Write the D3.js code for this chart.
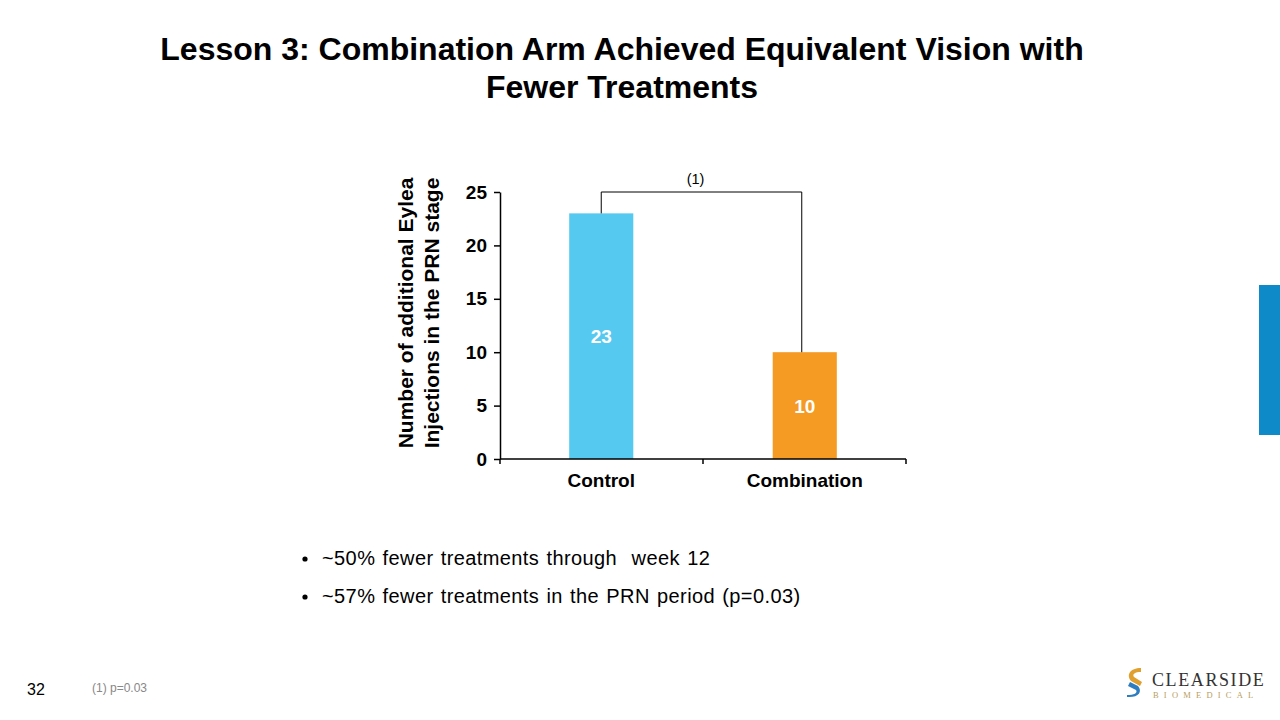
<!DOCTYPE html>
<html><head><meta charset="utf-8">
<script src="https://cdn.jsdelivr.net/npm/d3@7"></script>
<style>body{margin:0;background:#fff}svg{display:block;font-family:"Liberation Sans",Arial,sans-serif}</style>
</head><body><svg id="c" width="1280" height="720"></svg>
<script>
const categories = ["Control", "Combination"];
const values = [23, 10];
const barLabels = ["23", "10"];
const yTicks = [0, 5, 10, 15, 20, 25];
const colors = ["#56C9F1", "#F59A23"];
const titleLines = ["Lesson 3: Combination Arm Achieved Equivalent Vision with", "Fewer Treatments"];
const yLabelLines = ["Number of additional Eylea", "Injections in the PRN stage"];
const bullets = ["~50% fewer treatments through  week 12", "~57% fewer treatments in the PRN period (p=0.03)"];

const svg = d3.select("#c");
// title
svg.append("g").selectAll("text").data(titleLines).join("text")
  .attr("x", 622).attr("y", (d,i)=>59.5+i*38.5).attr("text-anchor","middle")
  .attr("font-size",32).attr("font-weight","bold").attr("fill","#000").text(d=>d);

const pLeft=500, pRight=906, pTop=192, pBottom=459;
const x = d3.scaleBand().domain(categories).range([pLeft,pRight]).paddingInner(0.685).paddingOuter(0.34);
const y = d3.scaleLinear().domain([0,25]).range([pBottom,pTop]);

const g = svg.append("g");
g.selectAll("rect").data(values).join("rect")
  .attr("x",(d,i)=>x(categories[i])).attr("width",x.bandwidth())
  .attr("y",d=>y(d)).attr("height",d=>y(0)-y(d)).attr("fill",(d,i)=>colors[i]);

g.selectAll("text.bl").data(values).join("text").attr("class","bl")
  .attr("x",(d,i)=>x(categories[i])+x.bandwidth()/2)
  .attr("y",d=>y(d/2)+7).attr("text-anchor","middle")
  .attr("font-size",19).attr("font-weight","bold").attr("fill","#fff")
  .text((d,i)=>barLabels[i]);

// y axis
const ya = svg.append("g").attr("transform",`translate(${pLeft},0)`)
  .call(d3.axisLeft(y).tickValues(yTicks).tickSize(6).tickSizeOuter(0));
ya.select(".domain").attr("stroke","#000").attr("stroke-width",1.5);
ya.selectAll(".tick line").attr("stroke","#000").attr("stroke-width",1.5);
ya.selectAll(".tick text").attr("font-size",19).attr("font-weight","bold").attr("fill","#000")
  .attr("font-family","Liberation Sans, Arial, sans-serif").attr("x",-13);

// x axis
const xa = svg.append("g").attr("transform",`translate(0,${pBottom})`);
xa.append("line").attr("x1",pLeft).attr("x2",pRight).attr("stroke","#000").attr("stroke-width",1.5);
const bounds = [pLeft, (pLeft+pRight)/2, pRight];
xa.selectAll("line.t").data(bounds).join("line").attr("class","t")
  .attr("x1",d=>d).attr("x2",d=>d).attr("y1",0).attr("y2",5).attr("stroke","#000").attr("stroke-width",1.5);
xa.selectAll("text").data(categories).join("text")
  .attr("x",d=>x(d)+x.bandwidth()/2).attr("y",28).attr("text-anchor","middle")
  .attr("font-size",19).attr("font-weight","bold").attr("fill","#000").text(d=>d);

// y label
const yl = svg.append("g").attr("transform","translate(0,313) rotate(-90)");
yl.selectAll("text").data(yLabelLines).join("text")
  .attr("x",0).attr("y",(d,i)=>413+i*26).attr("text-anchor","middle")
  .attr("font-size",21).attr("font-weight","bold").attr("fill","#000").text(d=>d);

// bracket
const cx0 = x(categories[0])+x.bandwidth()/2, cx1 = x(categories[1])+x.bandwidth()/2 - 3;
svg.append("path").attr("fill","none").attr("stroke","#000").attr("stroke-width",1)
  .attr("d",`M${cx0},${y(values[0])}V${y(25)}H${cx1}V${y(values[1])}`);
svg.append("text").attr("x",(cx0+cx1)/2-6).attr("y",184).attr("text-anchor","middle")
  .attr("font-size",14.5).attr("fill","#000").text("(1)");

// bullets
const bg = svg.append("g");
bullets.forEach((b,i)=>{
  bg.append("circle").attr("cx",305).attr("cy",559+i*38).attr("r",2.6).attr("fill","#000");
  bg.append("text").attr("x",322).attr("y",565+i*38).attr("font-size",20).attr("word-spacing",1.3)
    .attr("letter-spacing",0.4).attr("fill","#000")
    .attr("xml:space","preserve").style("white-space","pre").text(b);
});

// footer
svg.append("text").attr("x",27).attr("y",695).attr("font-size",16).attr("fill","#000").text("32");
svg.append("text").attr("x",92).attr("y",692).attr("font-size",12).attr("fill","#888").text("(1) p=0.03");

// side bar
svg.append("rect").attr("x",1259).attr("y",285).attr("width",21).attr("height",150).attr("fill","#0F8AC9");

// logo
const lg = svg.append("g");
lg.append("path").attr("d","M1141,668 C1130,668 1126,675 1131,681 L1140,686 L1142,682 L1134,677 C1132,674 1135,672 1141,672 Z").attr("fill","#E0A030");
lg.append("path").attr("d","M1127,697 C1138,698 1143,692 1138,686 L1130,682 L1128,686 L1136,690 C1138,693 1134,695 1127,695 Z").attr("fill","#2D7DC0");
lg.append("text").attr("x",1152).attr("y",686).attr("font-family","Liberation Serif, serif").attr("font-size",18)
  .attr("letter-spacing",1.6).attr("fill","#333").text("CLEARSIDE");
lg.append("text").attr("x",1153).attr("y",698).attr("font-family","Liberation Serif, serif").attr("font-size",8.5)
  .attr("letter-spacing",5.2).attr("fill","#B8A060").text("BIOMEDICAL");
</script></body></html>
